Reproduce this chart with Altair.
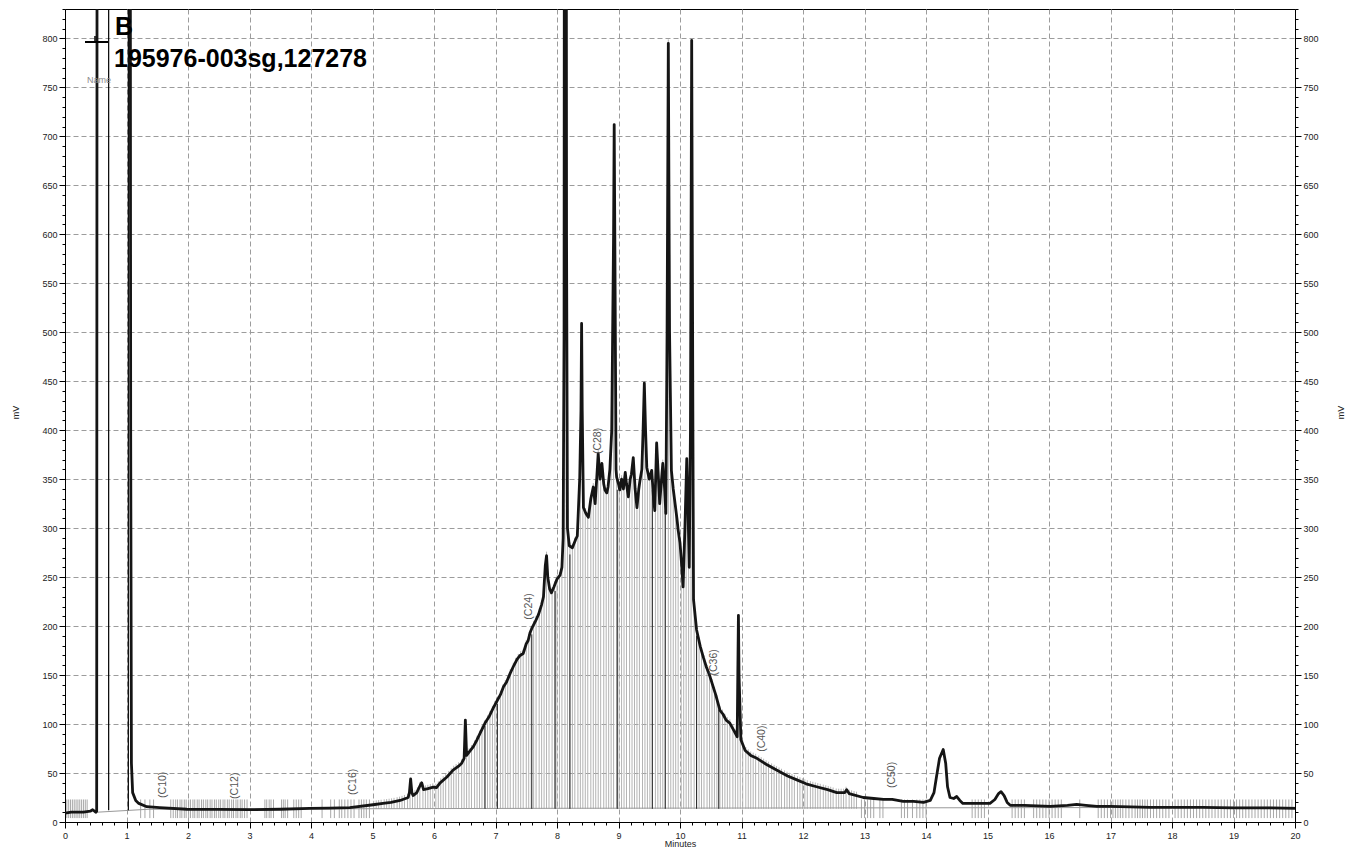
import altair as alt
import pandas as pd
import numpy as np

# ---------------- data ----------------
TIME = [0.00, 0.10, 0.20, 0.30, 0.41, 0.45, 0.50, 0.515, 0.525, 1.055, 1.068, 1.08, 1.10, 1.15, 1.20,
        1.33, 1.54, 1.98, 2.50, 3.00, 3.50, 3.98, 4.30, 4.63, 5.01, 5.17, 5.30, 5.45, 5.58, 5.60,
        5.62, 5.64, 5.66, 5.72, 5.78, 5.80, 5.83, 5.90, 5.99, 6.04, 6.10, 6.21, 6.31, 6.40, 6.45,
        6.49, 6.51, 6.53, 6.58, 6.64, 6.70, 6.76, 6.83, 6.90, 6.96, 7.02, 7.08, 7.13, 7.18, 7.24,
        7.30, 7.35, 7.40, 7.45, 7.50, 7.53, 7.56, 7.60, 7.65, 7.70, 7.75, 7.78, 7.81, 7.83, 7.85,
        7.88, 7.91, 7.95, 8.00, 8.05, 8.08, 8.10, 8.115, 8.125, 8.145, 8.155, 8.17, 8.20, 8.25, 8.30,
        8.33, 8.37, 8.39, 8.40, 8.41, 8.43, 8.47, 8.51, 8.55, 8.59, 8.62, 8.65, 8.67, 8.70, 8.73,
        8.76, 8.78, 8.81, 8.83, 8.86, 8.89, 8.92, 8.93, 8.94, 8.96, 8.97, 9.00, 9.02, 9.05, 9.08,
        9.11, 9.13, 9.16, 9.19, 9.21, 9.24, 9.27, 9.30, 9.33, 9.35, 9.38, 9.40, 9.42, 9.44, 9.46,
        9.50, 9.54, 9.57, 9.59, 9.62, 9.65, 9.67, 9.70, 9.72, 9.75, 9.77, 9.79, 9.81, 9.83, 9.86,
        9.89, 9.92, 9.95, 9.97, 10.00, 10.03, 10.05, 10.08, 10.11, 10.13, 10.15, 10.17, 10.19, 10.21, 10.22,
        10.27, 10.33, 10.38, 10.43, 10.48, 10.54, 10.58, 10.65, 10.70, 10.75, 10.81, 10.87, 10.93, 10.94, 10.95,
        10.96, 10.99, 11.06, 11.15, 11.25, 11.40, 11.57, 11.75, 11.90, 12.05, 12.22, 12.40, 12.55, 12.68, 12.71,
        12.75, 12.98, 13.15, 13.31, 13.45, 13.63, 13.80, 13.96, 14.07, 14.13, 14.17, 14.22, 14.28, 14.32, 14.35,
        14.39, 14.45, 14.50, 14.55, 14.60, 14.80, 15.04, 15.12, 15.18, 15.22, 15.27, 15.32, 15.37, 15.60, 16.02,
        16.30, 16.45, 16.60, 16.78, 17.00, 17.64, 18.00, 18.50, 19.00, 19.50, 20.00]
MV = [9, 10, 10, 10, 11, 12.5, 10, 11, 1500, 1500, 400, 60, 30, 22, 19,
      15.6, 14.6, 13, 12.8, 12.6, 13, 14, 14.2, 14.6, 17.6, 19, 20, 22, 25, 30,
      44, 30, 27, 30, 38, 40, 33, 34, 35.6, 35, 40, 46, 53, 57, 60,
      65, 104, 68, 72, 77, 84, 92, 101, 108, 116, 123, 130, 138, 143, 152,
      160, 166, 170, 172, 182, 185, 193, 199, 205, 212, 222, 230, 262, 272, 250,
      238, 234, 240, 248, 252, 260, 290, 500, 1500, 1500, 600, 300, 282, 280, 288,
      292, 352, 420, 509, 420, 321, 315, 311, 330, 342, 325, 355, 376, 350, 366,
      345, 339, 336, 342, 360, 400, 600, 712, 600, 360, 352, 345, 339, 350, 340,
      357, 345, 332, 350, 355, 372, 340, 321, 340, 349, 360, 400, 448, 400, 362,
      350, 359, 330, 318, 387, 350, 325, 350, 366, 340, 315, 500, 795, 500, 359,
      340, 325, 310, 298, 285, 260, 240, 300, 371, 320, 260, 400, 798, 400, 227,
      196, 179, 168, 158, 150, 138, 130, 114, 110, 104, 101, 94, 87, 150, 211,
      150, 84, 73, 68, 65, 59, 53, 47, 43, 39, 36, 33, 30, 30, 33,
      29, 25, 24, 23, 23, 21, 21, 20, 22, 30, 46, 65, 74, 60, 36,
      25, 24, 26, 22, 19, 19, 19, 23, 29, 31, 27, 20, 17, 17, 16,
      17, 18, 17, 16, 16, 15, 15, 15, 14.5, 14.5, 14]

# peak-integration markers under the hump (times)
MARK_T = [5.02, 5.06, 5.10, 5.14, 5.19, 5.23, 5.27, 5.31, 5.35, 5.40, 5.44, 5.48, 5.52, 5.57, 5.61,
          5.65, 5.69, 5.73, 5.77, 5.82, 5.86, 5.90, 5.94, 5.98, 6.03, 6.07, 6.11, 6.15, 6.19, 6.24,
          6.28, 6.32, 6.36, 6.40, 6.45, 6.49, 6.53, 6.57, 6.61, 6.66, 6.70, 6.74, 6.78, 6.82, 6.87,
          6.91, 6.95, 6.99, 7.03, 7.08, 7.12, 7.16, 7.20, 7.24, 7.29, 7.33, 7.37, 7.41, 7.45, 7.50,
          7.54, 7.58, 7.62, 7.66, 7.71, 7.75, 7.79, 7.83, 7.87, 7.92, 7.96, 8.00, 8.04, 8.08, 8.13,
          8.17, 8.21, 8.25, 8.29, 8.34, 8.38, 8.42, 8.46, 8.50, 8.55, 8.59, 8.63, 8.67, 8.71, 8.76,
          8.80, 8.84, 8.88, 8.92, 8.97, 9.01, 9.05, 9.09, 9.13, 9.18, 9.22, 9.26, 9.30, 9.34, 9.39,
          9.43, 9.47, 9.51, 9.55, 9.60, 9.64, 9.68, 9.72, 9.76, 9.81, 9.85, 9.89, 9.93, 9.97, 10.02,
          10.06, 10.10, 10.14, 10.18, 10.23, 10.27, 10.31, 10.35, 10.39, 10.44, 10.48, 10.52, 10.56, 10.60, 10.65,
          10.69, 10.73, 10.77, 10.81, 10.86, 10.90, 10.94, 10.98, 11.02, 11.07, 11.11, 11.15, 11.19, 11.23, 11.28,
          11.32, 11.36, 11.40, 11.44, 11.49, 11.53, 11.57, 11.61, 11.65, 11.70, 11.74, 11.78, 11.82, 11.86, 11.91,
          11.95, 11.99, 12.03, 12.07, 12.12, 12.16, 12.20, 12.24, 12.28, 12.33, 12.37, 12.41, 12.45, 12.49, 12.54,
          12.58, 12.62, 12.66, 12.70, 12.75, 12.79, 12.83, 12.87]

# short markers on the flat baseline (times)
TICK_T = [0.03, 0.06, 0.09, 0.12, 0.15, 0.18, 0.21, 0.24, 0.27, 0.30, 0.33, 0.36,
          1.23, 1.30, 1.38, 1.44,
          1.72, 1.76, 1.80, 1.83, 1.87, 1.90, 1.94, 1.97, 2.01, 2.04, 2.08, 2.11, 2.15, 2.18, 2.22,
          2.25, 2.29, 2.32, 2.36, 2.39, 2.43, 2.46, 2.50, 2.53, 2.57, 2.60, 2.64, 2.67, 2.71, 2.74,
          2.78, 2.81, 2.85, 2.88, 2.92, 2.96,
          3.25, 3.28, 3.32, 3.35, 3.39, 3.52, 3.55, 3.58, 3.62, 3.72, 3.76, 3.80, 3.84,
          4.18, 4.32, 4.38, 4.46, 4.50, 4.55, 4.60, 4.65, 4.70, 4.78, 4.82, 4.86, 4.90, 4.95,
          12.95, 13.00, 13.05, 13.10, 13.15, 13.25, 13.30, 13.60, 13.65, 13.70, 13.78, 13.85, 13.90,
          13.95, 14.00, 14.75, 14.80, 14.85, 14.90, 14.95,
          15.40, 15.45, 15.50, 15.55, 15.60, 15.75, 15.80, 15.85, 15.90, 15.95, 16.00, 16.05, 16.10,
          16.15, 16.20, 16.50, 16.80, 16.85, 16.90, 16.95, 17.00, 17.04, 17.08, 17.12, 17.16, 17.20,
          17.25, 17.30, 17.35, 17.40, 17.44, 17.48, 17.52, 17.56, 17.60, 17.65, 17.70, 17.75, 17.80,
          17.85, 17.90, 17.95, 18.05, 18.10, 18.15, 18.20, 18.25, 18.30, 18.35, 18.40, 18.45, 18.50,
          18.55, 18.60, 18.65, 18.70, 18.75, 18.80, 18.85, 18.90, 18.95, 19.00, 19.05, 19.10, 19.15,
          19.20, 19.25, 19.30, 19.35, 19.40, 19.45, 19.50, 19.55, 19.60, 19.65, 19.70, 19.75, 19.80,
          19.85, 19.90, 19.95]

# darker integration lines
DARK_T = [6.83, 7.03, 7.59, 7.97, 8.21, 8.98, 9.55, 9.76, 10.27, 10.63]

# event lines near the solvent front
EVENT_T = [0.71, 1.03]

# baseline
BASE_T = [0.52, 1.35, 8.0, 20.0]
BASE_MV = [10, 13, 14, 15]

# peak labels
LABELS = ["(C10)", "(C12)", "(C16)", "(C24)", "(C28)", "(C36)", "(C40)", "(C50)"]
LABEL_T = [1.60, 2.77, 4.68, 7.54, 8.67, 10.55, 11.33, 13.45]
LABEL_MV = [38, 37, 41, 220, 389, 163, 85, 48]

X_MAJOR = list(range(0, 21))
X_MINOR = [round(i * 0.2, 1) for i in range(101) if i % 5 != 0]
Y_MAJOR = list(range(0, 801, 50))
Y_MINOR = [i * 10 for i in range(0, 84) if i % 5 != 0]

# ---------------- frames ----------------
trace = pd.DataFrame({"t": TIME, "mv": MV})
mark_top = np.interp(MARK_T, TIME, MV)
markers = pd.DataFrame({"t": MARK_T, "lo": 13.5, "hi": np.minimum(mark_top + 4, 830)})
ticks = pd.DataFrame({"t": TICK_T, "lo": 4, "hi": 23})
dark = pd.DataFrame({"t": DARK_T, "lo": 13.5, "hi": np.interp(DARK_T, TIME, MV) * 0.97})
events = pd.DataFrame({"t": EVENT_T, "lo": 12, "hi": 830})
base = pd.DataFrame({"t": BASE_T, "mv": BASE_MV})
labels = pd.DataFrame({"name": LABELS, "t": LABEL_T, "mv": LABEL_MV})
one = pd.DataFrame({"a": [0]})

XS = alt.Scale(domain=[0, 20], nice=False, zero=False)
YS = alt.Scale(domain=[0, 830], nice=False, zero=False)
FONT = "Liberation Sans"

ax_common = dict(labelFont=FONT, labelFontSize=9, labelColor="#222", domainColor="#000",
                 tickColor="#000", titleFont=FONT, titleFontSize=9, titleFontWeight="normal",
                 titleColor="#222")

x_major = alt.Axis(orient="bottom", values=X_MAJOR, format="d", tickSize=6, labelPadding=3,
                   grid=True, gridDash=[5, 3], gridColor="#9c9c9c", title="Minutes",
                   titleY=21, titleBaseline="middle", labelFlush=False, **ax_common)
x_minor = alt.Axis(orient="bottom", values=X_MINOR, labels=False, tickSize=3, grid=False,
                   domain=False, title=None, tickColor="#000")
y_left = alt.Axis(orient="left", values=Y_MAJOR, format="d", tickSize=6, labelPadding=2,
                  grid=True, gridDash=[5, 3], gridColor="#9c9c9c", title="mV", titleAngle=270,
                  titleX=-50, titleY=403, titleAlign="center", titleBaseline="middle", **ax_common)
y_left_minor = alt.Axis(orient="left", values=Y_MINOR, labels=False, tickSize=3, grid=False,
                        domain=False, title=None, tickColor="#000")
y_right = alt.Axis(orient="right", values=Y_MAJOR, format="d", tickSize=6, labelPadding=2,
                   grid=False, title="mV", titleAngle=270, titleX=45, titleY=403,
                   titleAlign="center", titleBaseline="middle", **ax_common)
y_right_minor = alt.Axis(orient="right", values=Y_MINOR, labels=False, tickSize=3, grid=False,
                         domain=False, title=None, tickColor="#000")

l_markers = alt.Chart(markers).mark_rule(color="#b4b4b4", strokeWidth=1, clip=True).encode(
    x=alt.X("t:Q", scale=XS, axis=x_major),
    y=alt.Y("lo:Q", scale=YS, axis=y_left),
    y2="hi:Q",
)
l_ticks = alt.Chart(ticks).mark_rule(color="#a8a8a8", strokeWidth=1, clip=True).encode(
    x=alt.X("t:Q", scale=XS, axis=x_minor),
    y=alt.Y("lo:Q", scale=YS, axis=y_left_minor),
    y2="hi:Q",
)
l_base = alt.Chart(base).mark_line(color="#999", strokeWidth=1, clip=True).encode(
    x=alt.X("t:Q", scale=XS, axis=None),
    y=alt.Y("mv:Q", scale=YS, axis=y_right),
)
l_dark = alt.Chart(dark).mark_rule(color="#222", strokeWidth=1, clip=True).encode(
    x=alt.X("t:Q", scale=XS, axis=None),
    y=alt.Y("lo:Q", scale=YS, axis=y_right_minor),
    y2="hi:Q",
)
l_events = alt.Chart(events).mark_rule(color="#000", strokeWidth=1.2, clip=True).encode(
    x=alt.X("t:Q", scale=XS, axis=None),
    y=alt.Y("lo:Q", scale=YS, axis=None),
    y2="hi:Q",
)
l_trace = alt.Chart(trace).mark_line(color="#151515", strokeWidth=2.8, clip=True,
                                     strokeJoin="round").encode(
    x=alt.X("t:Q", scale=XS, axis=None),
    y=alt.Y("mv:Q", scale=YS, axis=None),
    order="t:Q",
)
l_labels = alt.Chart(labels).mark_text(angle=270, font=FONT, fontSize=10.5, color="#555",
                                       align="center", baseline="middle").encode(
    x=alt.X("t:Q", scale=XS, axis=None),
    y=alt.Y("mv:Q", scale=YS, axis=None),
    text="name:N",
)
t_b = alt.Chart(one).mark_text(text="B", font=FONT, fontSize=25, fontWeight="bold",
                               color="#000", align="left", baseline="alphabetic").encode(
    x=alt.value(50), y=alt.value(26))
t_id = alt.Chart(one).mark_text(text="195976-003sg,127278", font=FONT, fontSize=25,
                                fontWeight="bold", color="#000", align="left",
                                baseline="alphabetic").encode(x=alt.value(49), y=alt.value(58))
t_name = alt.Chart(one).mark_text(text="Name", font=FONT, fontSize=9, color="#8a8a8a",
                                  align="left", baseline="middle").encode(
    x=alt.value(22), y=alt.value(71))
leg_h = alt.Chart(one).mark_rule(color="#000", strokeWidth=2).encode(
    x=alt.value(20), x2=alt.value(43), y=alt.value(33))
leg_v = alt.Chart(one).mark_rule(color="#000", strokeWidth=1.5).encode(
    x=alt.value(30), y=alt.value(27), y2=alt.value(33))

chart = alt.layer(
    l_markers, l_ticks, l_base, l_dark, l_events, l_trace, l_labels,
    t_b, t_id, t_name, leg_h, leg_v,
).resolve_axis(x="independent", y="independent").properties(
    width=1230, height=813,
    autosize=alt.AutoSizeParams(type="none"),
    padding={"left": 57, "top": 1, "right": 51, "bottom": 28},
).configure_view(stroke="#000", strokeWidth=1)

chart.save("out.html", embed_options={"renderer": "svg", "actions": False})
